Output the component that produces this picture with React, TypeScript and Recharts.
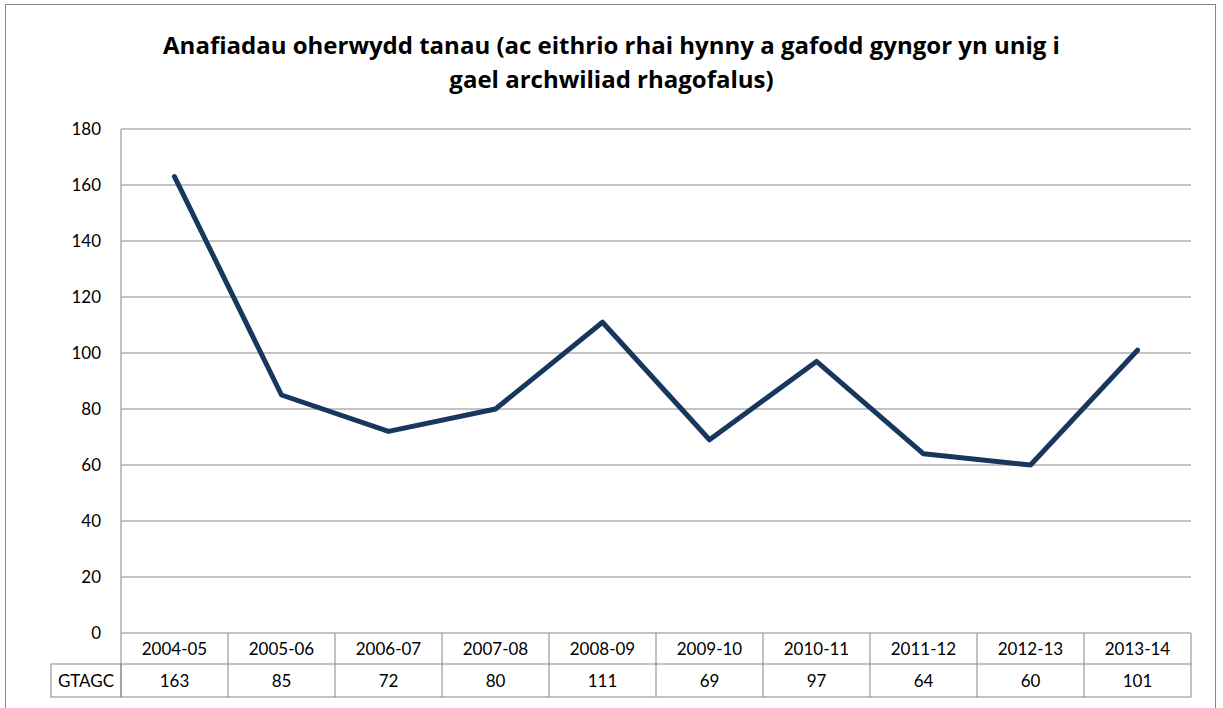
import React from "react";
import { LineChart, Line, XAxis, YAxis, CartesianGrid } from "recharts";

const categories = ["2004-05", "2005-06", "2006-07", "2007-08", "2008-09", "2009-10", "2010-11", "2011-12", "2012-13", "2013-14"];
const values = [163, 85, 72, 80, 111, 69, 97, 64, 60, 101];
const seriesName = "GTAGC";
const yTicks = [0, 20, 40, 60, 80, 100, 120, 140, 160, 180];
const titleLines = [
  "Anafiadau oherwydd tanau (ac eithrio rhai hynny a gafodd gyngor yn unig i",
  "gael archwiliad rhagofalus)"
];

const W = 1223;
const H = 708;
const PLOT_LEFT = 121;
const PLOT_RIGHT = 1191;
const PLOT_TOP = 129;
const PLOT_BOTTOM = 633;
const BAND = (PLOT_RIGHT - PLOT_LEFT) / categories.length;
const GRID = "#878787";
const FONT = "Lato, 'Open Sans', sans-serif";

const data = categories.map((c, i) => ({ year: c, [seriesName]: values[i] }));

function TableTick(props: any) {
  const { x, payload, index } = props;
  const top = PLOT_BOTTOM;
  const mid = top + 31;
  const bottom = mid + 33;
  const l = x - BAND / 2;
  const r = x + BAND / 2;
  return (
    <g>
      <line x1={r} y1={top} x2={r} y2={bottom} stroke={GRID} />
      <line x1={l} y1={mid} x2={r} y2={mid} stroke={GRID} />
      <line x1={l} y1={bottom} x2={r} y2={bottom} stroke={GRID} />
      <text x={x} y={top + 22} textAnchor="middle" fontSize={17} fontFamily={FONT} fill="#000">{payload.value}</text>
      <text x={x} y={mid + 23} textAnchor="middle" fontSize={17} fontFamily={FONT} fill="#000">{values[index]}</text>
      {index === 0 && (
        <g>
          <rect x={51} y={mid} width={l - 51} height={bottom - mid} fill="none" stroke={GRID} />
          <line x1={l} y1={top} x2={l} y2={bottom} stroke={GRID} />
          <text x={(51 + l) / 2} y={mid + 23} textAnchor="middle" fontSize={17} fontFamily={FONT} fill="#000">{seriesName}</text>
        </g>
      )}
    </g>
  );
}

export default function App() {
  return (
    <div style={{ position: "absolute", left: 0, top: 0, width: W, height: H, overflow: "hidden", background: "#fff" }}>
      <div style={{ position: "absolute", left: 5, top: 4, width: 1211, height: 720, border: "1.5px solid #878787", boxSizing: "border-box" }} />
      <div style={{ position: "absolute", left: 0, top: 28, width: W, textAlign: "center", fontFamily: "'Open Sans', sans-serif", fontWeight: 700, fontSize: 24, lineHeight: "34px", color: "#000" }}>
        {titleLines.map((t) => <div key={t}>{t}</div>)}
      </div>
      <div style={{ position: "absolute", left: 0, top: 0 }}>
        <LineChart width={W} height={H} data={data} margin={{ top: PLOT_TOP, right: W - PLOT_RIGHT, bottom: 11, left: PLOT_LEFT - 60 }}>
          <CartesianGrid vertical={false} stroke={GRID} strokeWidth={1} />
          <XAxis dataKey="year" height={H - PLOT_BOTTOM - 11} padding={{ left: BAND / 2, right: BAND / 2 }} axisLine={false} tickLine={false} tickSize={0} tickMargin={0} interval={0} tick={<TableTick />} />
          <YAxis width={60} domain={[0, 180]} ticks={yTicks} axisLine={{ stroke: GRID }} tickLine={false} tickMargin={14} tick={{ fontSize: 17, fontFamily: FONT, fill: "#000" }} />
          <Line type="linear" dataKey={seriesName} stroke="#17375E" strokeWidth={5} dot={false} strokeLinecap="round" strokeLinejoin="round" isAnimationActive={false} />
        </LineChart>
      </div>
    </div>
  );
}
